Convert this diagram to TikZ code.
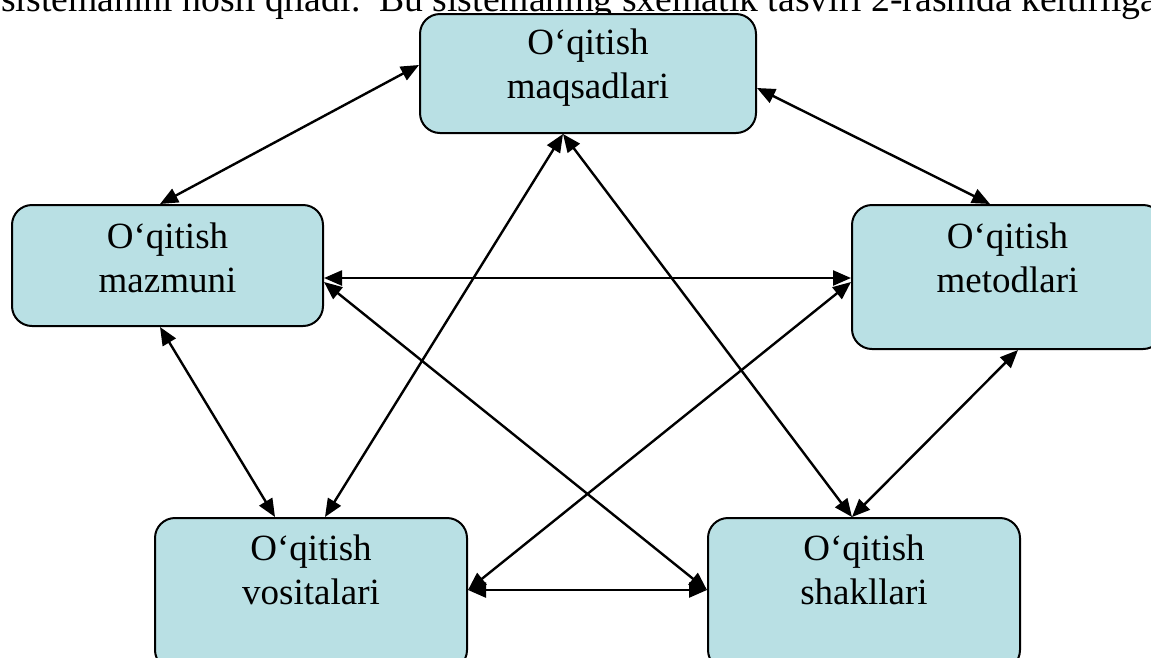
\documentclass[tikz,border=0pt]{standalone}
\usepackage{fontspec}
\setmainfont{Liberation Serif}
\usetikzlibrary{arrows.meta}
\definecolor{boxfill}{RGB}{185,224,228}
\tikzset{
  boxnode/.style={draw=black, line width=2pt, fill=boxfill, rounded corners=20pt, inner sep=0pt},
  boxtext/.style={anchor=north, align=center, inner sep=0pt, font=\fontsize{37}{44}\selectfont},
  link/.style={line width=2.4pt, {Triangle[length=18pt,width=15pt]}-{Triangle[length=18pt,width=15pt]}}
}
\begin{document}
\begin{tikzpicture}[x=1pt,y=-1pt]
\useasboundingbox (0,0) rectangle (1151,657);
\clip (0,0) rectangle (1151,657);
\node[anchor=base west, inner sep=0pt, font=\fontsize{37.7}{44}\selectfont] (head) at (1,11) {sistemanini hosil qiladi.\ \ Bu sistemaning sxematik tasviri 2-rasmda keltirilgan};
% boxes
\node[boxnode, minimum width=336pt, minimum height=119pt] (maq) at (588,73.5) {};
\node[boxnode, minimum width=311pt, minimum height=121pt] (maz) at (167.5,265.5) {};
\node[boxnode, minimum width=311pt, minimum height=144pt] (met) at (1007.5,277) {};
\node[boxnode, minimum width=312pt, minimum height=152pt] (vos) at (311,594) {};
\node[boxnode, minimum width=312pt, minimum height=152pt] (shk) at (864,594) {};
% texts
\node[boxtext] (maqT) at (588,29) {O‘qitish\\maqsadlari};
\node[boxtext] (mazT) at (167.5,223) {O‘qitish\\mazmuni};
\node[boxtext] (metT) at (1007.5,223) {O‘qitish\\metodlari};
\node[boxtext] (vosT) at (311,535) {O‘qitish\\vositalari};
\node[boxtext] (shkT) at (864,535) {O‘qitish\\shakllari};
% connectors
\draw[link] ([yshift=8.5pt]maq.west) -- ([xshift=-7.5pt]maz.north);
\draw[link] ([yshift=-14.5pt]maq.east) -- ([xshift=-17.5pt]met.north);
\draw[link] ([yshift=-12.5pt]maz.east) -- ([yshift=-1pt]met.west);
\draw[link] ([xshift=-7.5pt]maz.south) -- ([xshift=-36pt]vos.north);
\draw[link] ([xshift=10.5pt]met.south) -- ([xshift=-12pt]shk.north);
\draw[link] ([xshift=-25pt]maq.south) -- ([xshift=14pt]vos.north);
\draw[link] ([xshift=-25pt]maq.south) -- ([xshift=-12pt]shk.north);
\draw[link] ([yshift=-16.5pt]maz.east) -- ([yshift=4pt]shk.west);
\draw[link] ([yshift=-5pt]met.west) -- ([yshift=4pt]vos.east);
\draw[link] ([yshift=4pt]vos.east) -- ([yshift=4pt]shk.west);
\end{tikzpicture}
\end{document}
